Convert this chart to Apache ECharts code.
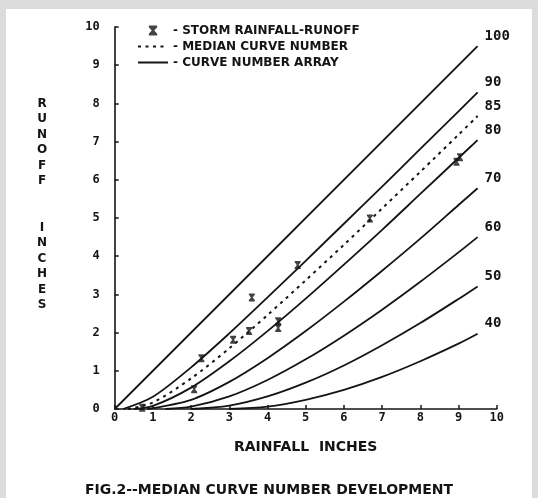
<!DOCTYPE html>
<html>
<head>
<meta charset="utf-8">
<script src="https://cdn.jsdelivr.net/npm/echarts@6/dist/echarts.min.js"></script>
<style>
html,body{margin:0;padding:0;background:#dcdcdc;}
#c{width:538px;height:498px;}
</style>
</head>
<body>
<div id="c"></div>
<script>
// ---- data ----
const axisTicks = [0, 1, 2, 3, 4, 5, 6, 7, 8, 9, 10];
const curveNumbers = ['100', '90', '85', '80', '70', '60', '50', '40'];

// runoff curves: [rainfall, runoff] (inches)
const cn100 = [[0, 0], [9.5, 9.5]];
const cn90 = [[0.22, 0], [1, 0.32], [2, 1.09], [3, 1.98], [4, 2.92], [5, 3.88], [6, 4.85], [7, 5.82], [8, 6.81], [9, 7.79], [9.5, 8.29]];
const cn85 = [[0.35, 0], [1, 0.17], [2, 0.8], [3, 1.59], [4, 2.46], [5, 3.37], [6, 4.3], [7, 5.25], [8, 6.21], [9, 7.18], [9.5, 7.67]];
const cn80 = [[0.5, 0], [1, 0.08], [2, 0.56], [3, 1.25], [4, 2.04], [5, 2.89], [6, 3.78], [7, 4.69], [8, 5.63], [9, 6.57], [9.5, 7.04]];
const cn70 = [[0.86, 0], [2, 0.24], [3, 0.71], [4, 1.33], [5, 2.04], [6, 2.81], [7, 3.62], [8, 4.46], [9, 5.34], [9.5, 5.78]];
const cn60 = [[1.33, 0], [2, 0.06], [3, 0.33], [4, 0.76], [5, 1.3], [6, 1.92], [7, 2.6], [8, 3.33], [9, 4.1], [9.5, 4.5]];
const cn50 = [[2, 0], [3, 0.09], [4, 0.33], [5, 0.69], [6, 1.14], [7, 1.67], [8, 2.25], [9, 2.88], [9.5, 3.21]];
const cn40 = [[3, 0], [4, 0.06], [5, 0.24], [6, 0.5], [7, 0.84], [8, 1.25], [9, 1.71], [9.5, 1.97]];

// storm observations
const stormRainfall = [0.72, 2.08, 2.27, 3.10, 3.52, 3.59, 4.28, 4.28, 4.79, 6.68, 8.95, 9.04];
const stormRunoff   = [0.03, 0.52, 1.33, 1.81, 2.04, 2.92, 2.30, 2.12, 3.77, 4.99, 6.47, 6.59];

const legStorm = '- STORM RAINFALL-RUNOFF';
const legMedian = '- MEDIAN CURVE NUMBER';
const legArray = '- CURVE NUMBER ARRAY';
const xTitle = 'RAINFALL  INCHES';
const yTitleLetters = ['R', 'U', 'N', 'O', 'F', 'F', '', '', 'I', 'N', 'C', 'H', 'E', 'S'];
const caption = 'FIG.2--MEDIAN CURVE NUMBER DEVELOPMENT';

// ---- chart ----
const ink = '#141414';
const mono = '"DejaVu Sans Mono", monospace';
const sans = '"DejaVu Sans", sans-serif';
const hourglass = 'path://M0,0 L10,0 L10,2 L6.5,6 L10,10 L10,12 L0,12 L0,10 L3.5,6 L0,2 Z';

const curves = [cn100, cn90, cn85, cn80, cn70, cn60, cn50, cn40];

function curveSeries(data, label, dashed) {
  return {
    name: dashed ? legMedian : legArray,
    type: 'line',
    data: data,
    smooth: 0.3,
    symbol: 'none',
    silent: true,
    itemStyle: { color: ink },
    lineStyle: { color: ink, width: dashed ? 2 : 1.8, type: dashed ? [3, 4.5] : 'solid' },
    endLabel: {
      show: true,
      formatter: label,
      color: ink,
      fontFamily: mono,
      fontWeight: 'bold',
      fontSize: 14,
      offset: [-1, -10]
    },
    z: 3
  };
}

const series = [{
  name: legStorm,
  type: 'scatter',
  data: stormRainfall.map((p, i) => [p, stormRunoff[i]]),
  symbol: hourglass,
  symbolSize: [6, 8],
  itemStyle: { color: ink },
  z: 5
}];
curveNumbers.forEach((cn, i) => {
  series.push(curveSeries(curves[i], cn, cn === '85'));
});

const noSymbol = { color: 'rgba(0,0,0,0)', borderWidth: 0 };

const option = {
  animation: false,
  backgroundColor: '#dcdcdc',
  graphic: [
    { type: 'rect', left: 6, top: 9, shape: { width: 526, height: 489 }, style: { fill: '#ffffff' }, z: -10, silent: true },
    { type: 'text', left: 'center', top: 483, style: { text: caption, fill: ink, font: 'bold 14px ' + sans } },
    { type: 'text', x: 42, y: 96, style: { text: yTitleLetters.join('\n'), fill: ink, font: 'bold 12px ' + sans, lineHeight: 15.5, align: 'center', verticalAlign: 'top' } }
  ],
  legend: {
    orient: 'vertical',
    left: 132,
    top: 19.5,
    itemWidth: 30,
    itemHeight: 10,
    itemGap: 4,
    selectedMode: false,
    textStyle: { color: ink, fontFamily: sans, fontWeight: 'bold', fontSize: 12, lineHeight: 12 },
    data: [
      { name: legStorm, icon: hourglass },
      { name: legMedian, itemStyle: noSymbol },
      { name: legArray, itemStyle: noSymbol }
    ]
  },
  grid: { left: 114.7, right: 41.3, top: 27, bottom: 89, containLabel: false },
  xAxis: {
    type: 'value',
    min: axisTicks[0],
    max: axisTicks[axisTicks.length - 1],
    interval: 1,
    splitLine: { show: false },
    axisLine: { lineStyle: { color: ink, width: 1.6 } },
    axisTick: { inside: true, length: 4, lineStyle: { color: ink, width: 1.5 } },
    axisLabel: { color: ink, fontFamily: mono, fontWeight: 'bold', fontSize: 12, margin: 3 },
    name: xTitle,
    nameLocation: 'middle',
    nameGap: 31,
    nameTextStyle: { color: ink, fontFamily: sans, fontWeight: 'bold', fontSize: 14 }
  },
  yAxis: {
    type: 'value',
    min: axisTicks[0],
    max: axisTicks[axisTicks.length - 1],
    interval: 1,
    splitLine: { show: false },
    axisLine: { lineStyle: { color: ink, width: 1.6 } },
    axisTick: { inside: true, length: 4, lineStyle: { color: ink, width: 1.5 } },
    axisLabel: { color: ink, fontFamily: mono, fontWeight: 'bold', fontSize: 12, margin: 15 }
  },
  series: series
};

const chart = echarts.init(document.getElementById('c'), null, { renderer: 'canvas' });
chart.setOption(option);
</script>
</body>
</html>
